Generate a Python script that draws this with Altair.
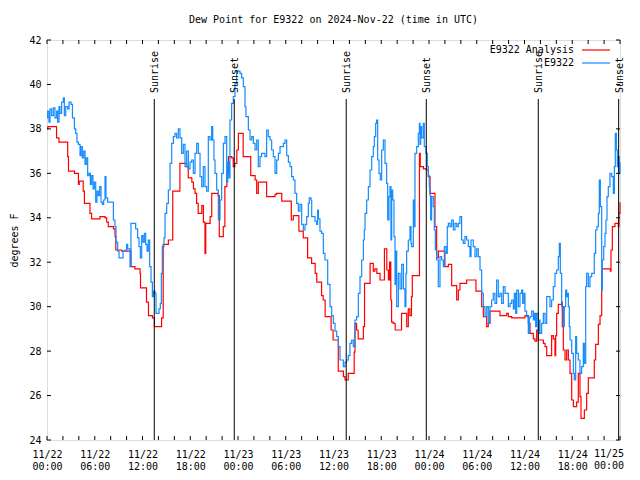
import json
import altair as alt
import pandas as pd

# ---------------- data (hours since 2024-11-22 00:00 UTC, dew point in deg F) ----------------
red_h = [0.0, 0.1, 1.2, 1.5, 2.6, 2.7, 3.45, 3.95, 4.05, 4.55, 4.7, 5.4, 5.6, 6.65, 7.3, 7.5, 7.7,
         8.35, 8.55, 8.65, 9.4, 10.55, 11.05, 11.7, 11.75, 12.5, 12.75, 13.25, 13.5, 14.4, 14.6,
         15.25, 15.8, 16.7, 17.55, 17.75, 18.2, 18.4, 18.6, 18.8, 19.0, 19.45, 19.65, 19.85, 19.95,
         20.5, 20.7, 21.5, 21.65, 22.15, 22.35, 22.6, 22.8, 23.2, 23.4, 23.6, 23.85, 24.05, 24.65,
         25.6, 26.15, 26.35, 26.55, 27.6, 28.65, 28.85, 29.5, 30.7, 30.95, 31.65, 32.2, 32.75, 33.25,
         33.7, 33.9, 34.5, 34.7, 34.95, 35.7, 35.95, 36.6, 37.25, 37.45, 37.85, 38.6, 38.7, 38.9,
         39.1, 39.75, 39.9, 40.6, 41.0, 41.2, 41.45, 41.85, 42.4, 42.7, 42.9, 43.05, 43.2, 43.3,
         43.5, 43.75, 44.55, 45.2, 45.4, 45.6, 45.8, 45.9, 46.8, 46.9, 47.3, 47.7, 47.92, 48.13,
         48.75, 48.96, 49.17, 50.0, 50.43, 50.85, 51.48, 51.69, 51.89, 52.73, 53.9, 54.62, 54.83,
         55.25, 55.45, 55.66, 56.92, 57.76, 57.97, 58.39, 60.06, 60.48, 60.69, 61.11, 61.32, 61.53,
         61.74, 62.37, 62.58, 62.79, 63.41, 63.62, 63.83, 63.92, 64.04, 64.25, 64.67, 64.75, 64.88,
         65.09, 65.3, 65.51, 65.72, 65.93, 66.14, 66.55, 66.76, 66.97, 67.1, 67.52, 67.81, 68.02,
         68.77, 68.94, 69.28, 69.49, 69.7, 70.78, 70.87, 71.04, 71.37, 71.79, 71.87, 72.0]
red_v = [38.0, 38.1, 37.6, 37.4, 36.75, 36.1, 36.0, 35.5, 35.65, 35.2, 34.65, 34.2, 33.95, 34.05, 34.0, 33.8, 33.6,
         33.5, 33.15, 32.55, 32.5, 31.8, 31.7, 31.5, 30.85, 30.2, 29.6, 29.5, 29.1, 29.5, 32.8,
         33.0, 35.2, 36.45, 36.3, 35.8, 35.6, 35.3, 35.1, 34.65, 34.2, 34.55, 33.8, 32.4, 33.75,
         34.05, 35.1, 35.0, 33.15, 33.6, 35.4, 36.0, 36.75, 36.7, 36.3, 36.45, 37.05, 37.8, 36.75,
         35.9, 35.7, 35.1, 35.6, 34.95, 35.05, 35.1, 34.75, 33.9, 34.1, 33.4, 33.1, 32.2, 31.95,
         31.5, 31.1, 30.5, 30.3, 29.55, 28.95, 28.5, 27.1, 26.85, 26.7, 27.0, 27.95, 29.25, 28.95,
         28.55, 29.1, 31.05, 31.95, 31.6, 31.7, 31.5, 31.2, 32.6, 31.65, 31.2, 32.0, 30.3, 29.3,
         29.25, 28.95, 29.7, 29.1, 29.9, 29.6, 30.45, 31.4, 36.9, 36.3, 36.2, 36.15, 35.85, 35.1,
         33.6, 32.2, 32.5, 31.8, 31.9, 30.95, 30.3, 30.75, 31.05, 31.2, 30.7, 30.0, 29.55,
         29.1, 29.25, 29.8, 29.6, 29.7, 29.55, 29.5, 29.6, 29.25, 28.8, 28.55, 28.45, 28.95,
         28.5, 28.35, 28.2, 27.8, 28.7, 28.55, 27.8, 28.7, 29.7, 30.1, 30.2, 29.1, 28.05,
         27.6, 28.05, 27.6, 27.0, 25.8, 25.5, 25.7, 27.0, 25.95, 24.97, 25.35, 26.1, 26.8,
         27.6, 28.3, 29.2, 29.6, 31.7, 31.6, 32.55, 33.6, 33.75, 33.6, 34.2, 34.7]

blue_h = [0.0, 0.08, 0.25, 0.38, 0.59, 0.8, 1.0, 1.22, 1.34, 1.51, 1.63, 1.84, 2.05, 2.18, 2.35, 2.6,
          2.77, 3.02, 3.2, 3.44, 3.6, 3.77, 3.94, 4.15, 4.27, 4.44, 4.61, 4.78, 4.94, 5.11, 5.28,
          5.45, 5.61, 5.78, 5.95, 6.12, 6.28, 6.45, 6.62, 6.79, 6.95, 7.12, 7.29, 7.41, 7.62, 7.92,
          8.13, 8.34, 8.54, 8.67, 8.88, 9.05, 9.38, 9.55, 9.8, 10.01, 10.14, 10.3, 10.43, 10.55,
          10.89, 11.14, 11.39, 11.56, 11.73, 11.9, 12.06, 12.23, 12.4, 12.57, 12.73, 12.9, 13.07,
          13.24, 13.4, 13.57, 13.7, 13.9, 14.07, 14.24, 14.37, 14.49, 14.7, 14.83, 15.04, 15.25,
          15.46, 15.67, 15.88, 16.08, 16.29, 16.5, 16.71, 16.92, 17.13, 17.34, 17.55, 17.76, 17.97,
          18.18, 18.39, 18.6, 18.81, 19.02, 19.23, 19.44, 19.64, 19.85, 20.06, 20.27, 20.48, 20.69,
          20.82, 20.98, 21.11, 21.32, 21.53, 21.74, 21.95, 22.16, 22.37, 22.58, 22.7, 22.87, 22.99,
          23.2, 23.41, 23.62, 23.83, 24.04, 24.25, 24.46, 24.67, 24.88, 25.0, 25.3, 25.51, 25.72,
          25.93, 26.14, 26.35, 26.55, 26.76, 26.97, 27.18, 27.39, 27.6, 27.81, 28.02, 28.23, 28.44,
          28.65, 28.86, 29.07, 29.28, 29.7, 29.91, 30.12, 30.33, 30.53, 30.74, 30.95, 31.16, 31.37,
          31.58, 31.79, 32.0, 32.21, 32.42, 32.63, 32.84, 32.96, 33.17, 33.26, 33.68, 33.89, 34.01,
          34.1, 34.3, 34.51, 34.72, 34.93, 35.27, 35.56, 35.77, 35.98, 36.19, 36.4, 36.61, 36.82,
          37.03, 37.24, 37.45, 37.65, 37.86, 38.07, 38.28, 38.49, 38.7, 38.91, 39.12, 39.33, 39.54,
          39.75, 39.87, 39.96, 40.17, 40.38, 40.59, 40.8, 41.0, 41.13, 41.3, 41.42, 41.55, 41.72,
          41.88, 42.05, 42.26, 42.47, 42.68, 42.81, 42.97, 43.1, 43.22, 43.31, 43.44, 43.6, 43.73,
          43.85, 43.94, 44.15, 44.36, 44.57, 44.78, 44.98, 45.1, 45.19, 45.4, 45.61, 45.74, 45.82,
          46.03, 46.12, 46.24, 46.45, 46.66, 46.79, 46.87, 46.95, 47.08, 47.29, 47.41, 47.62, 47.79,
          47.92, 48.04, 48.13, 48.21, 48.33, 48.54, 48.67, 48.8, 48.96, 49.17, 49.38, 49.59, 49.8,
          49.93, 50.14, 50.3, 50.43, 50.64, 50.85, 51.06, 51.27, 51.48, 51.69, 51.89, 52.1, 52.31,
          52.52, 52.73, 52.94, 53.15, 53.28, 53.57, 53.78, 53.99, 54.2, 54.41, 54.62, 54.83, 55.04,
          55.25, 55.45, 55.66, 55.87, 56.08, 56.29, 56.5, 56.71, 56.92, 57.13, 57.34, 57.55, 57.76,
          57.97, 58.18, 58.39, 58.6, 58.72, 58.89, 59.02, 59.23, 59.43, 59.64, 59.77, 59.94, 60.06,
          60.27, 60.48, 60.61, 60.69, 60.9, 61.11, 61.24, 61.4, 61.53, 61.74, 61.86, 61.95, 62.16,
          62.37, 62.58, 62.79, 62.99, 63.2, 63.41, 63.62, 63.83, 64.04, 64.25, 64.38, 64.5, 64.67,
          64.88, 65.0, 65.17, 65.3, 65.42, 65.51, 65.63, 65.72, 65.93, 66.14, 66.26, 66.43, 66.55,
          66.76, 66.97, 67.18, 67.39, 67.52, 67.69, 67.81, 68.02, 68.23, 68.44, 68.65, 68.77, 68.94,
          69.11, 69.28, 69.4, 69.53, 69.7, 69.78, 69.95, 70.11, 70.24, 70.37, 70.53, 70.74, 70.95,
          71.16, 71.29, 71.41, 71.54, 71.66, 71.79, 71.91, 72.0]
blue_v = [38.5, 38.8, 38.3, 38.9, 38.6, 38.95, 38.5, 38.8, 38.3, 39.0, 38.7, 39.2, 39.4, 38.6, 39.0, 38.9,
          39.2, 39.1, 38.5, 38.0, 37.8, 37.4, 37.3, 36.8, 37.2, 36.7, 37.0, 36.4, 36.7, 35.9, 36.0,
          35.5, 35.9, 35.3, 35.6, 34.7, 35.2, 35.0, 35.4, 34.7, 34.6, 34.8, 35.85, 34.9, 34.7, 34.7,
          34.7, 33.9, 33.6, 32.9, 32.5, 32.2, 32.2, 32.5, 32.55, 32.8, 32.6, 32.6, 31.8, 33.75,
          33.75, 33.5, 33.1, 32.7, 32.2, 33.2, 32.9, 33.3, 32.8, 32.5, 33.0, 31.8, 31.1,
          30.45, 30.7, 30.6, 29.7, 29.7, 29.9, 30.15, 31.5, 32.7, 33.1, 34.2, 34.65, 35.25,
          36.45, 37.35, 37.65, 37.8, 37.6, 38.0, 37.6, 36.9, 37.3, 36.3, 37.0, 36.2, 36.5,
          36.6, 36.0, 36.9, 37.35, 36.9, 35.85, 35.4, 36.3, 35.4, 35.2, 37.65, 37.5, 38.1,
          37.5, 36.6, 36.0, 35.25, 33.9, 34.8, 36.0, 37.35, 37.65, 35.6, 36.5, 35.8, 38.4,
          39.15, 39.45, 40.05, 40.6, 40.6, 40.5, 40.3, 39.9, 39.0, 38.55, 37.95, 37.5, 37.65,
          37.35, 37.05, 37.5, 36.3, 36.75, 36.9, 36.9, 36.75, 37.95, 37.65, 37.5, 37.05, 36.75,
          36.0, 36.6, 36.9, 37.2, 37.35, 37.5, 36.8, 36.5, 36.3, 35.85, 35.7, 35.1, 34.65,
          34.3, 34.6, 33.7, 33.45, 33.7, 34.05, 34.65, 34.9, 34.8, 34.05, 33.85, 33.7, 34.35,
          33.95, 33.4, 33.3, 32.4, 32.1, 31.0, 30.0, 29.6, 29.25, 28.9, 28.65, 28.2, 27.6,
          27.6, 27.3, 27.5, 27.6, 27.8, 28.35, 28.5, 28.2, 29.4, 29.55, 30.6, 31.35, 32.1,
          33.0, 33.45, 34.2, 34.8, 35.4, 36.15, 36.75, 37.2, 37.65, 38.25, 38.4, 36.6, 36.0,
          35.7, 37.05, 37.5, 36.45, 35.55, 33.9, 34.95, 35.4, 33.0, 35.25, 34.8, 33.15, 31.0,
          32.5, 30.0, 31.5, 30.8, 31.9, 30.8, 30.0, 31.5, 32.5, 33.0, 33.6, 32.85, 32.7,
          34.8, 33.6, 36.9, 37.2, 37.8, 38.25, 37.3, 38.1, 37.6, 38.25, 37.2, 36.9, 36.3,
          35.9, 35.4, 35.0, 33.9, 34.95, 34.5, 33.45, 32.55, 32.1, 30.9, 32.25, 32.1, 31.8,
          32.7, 32.4, 33.6, 33.75, 33.6, 33.9, 33.45, 33.75, 33.6, 33.75, 34.05, 33.0, 32.85,
          33.15, 33.0, 32.7, 32.25, 33.0, 32.7, 32.25, 32.6, 32.25, 31.65, 30.6, 30.0, 29.55,
          30.0, 29.25, 30.0, 30.3, 30.6, 30.15, 31.2, 30.45, 30.6, 30.15, 30.9, 30.6, 30.6,
          30.0, 30.15, 30.3, 29.9, 30.6, 29.7, 30.75, 30.0, 30.6, 30.75, 30.15, 30.6, 29.8,
          29.55, 28.8, 29.5, 29.55, 29.8, 29.4, 29.7, 29.1, 29.7, 28.8, 29.4, 28.8, 29.25,
          29.7, 29.25, 30.45, 30.45, 30.0, 30.3, 30.9, 31.5, 31.65, 32.25, 32.85, 31.5, 30.0,
          29.1, 30.0, 30.75, 30.45, 30.6, 30.0, 29.1, 28.5, 27.9, 27.0, 26.7, 28.65, 27.9,
          27.6, 27.0, 27.3, 28.35, 27.45, 30.9, 31.5, 30.9, 31.35, 31.5, 31.5, 32.4, 33.45,
          33.6, 34.2, 35.7, 34.5, 30.75, 32.1, 32.7, 33.3, 33.9, 34.95, 35.4, 36.0, 35.85,
          35.1, 36.3, 37.8, 37.05, 36.3, 36.75, 36.0, 36.5]

sun_h = [13.48, 23.53, 37.6, 47.66, 61.73, 71.83]
sun_label = ["Sunrise", "Sunset", "Sunrise", "Sunset", "Sunrise", "Sunset"]

x_tick_hours = [0, 6, 12, 18, 24, 30, 36, 42, 48, 54, 60, 66, 72]
x_tick_labels = [["11/22", "00:00"], ["11/22", "06:00"], ["11/22", "12:00"], ["11/22", "18:00"],
                 ["11/23", "00:00"], ["11/23", "06:00"], ["11/23", "12:00"], ["11/23", "18:00"],
                 ["11/24", "00:00"], ["11/24", "06:00"], ["11/24", "12:00"], ["11/24", "18:00"],
                 ["11/25", "00:00"]]
x_minor_hours = list(range(0, 73, 2))
y_ticks = [24, 26, 28, 30, 32, 34, 36, 38, 40, 42]

series_names = ["E9322 Analysis", "E9322"]
series_colors = ["#ff0000", "#148cff"]

# ---------------- chart ----------------
FONT = "DejaVu Sans Mono"
W, H = 573, 400
xs = alt.Scale(domain=[0, 72], nice=False, zero=False)
ys = alt.Scale(domain=[24, 42], nice=False, zero=False)

red_df = pd.DataFrame({"h": red_h, "v": red_v})
blue_df = pd.DataFrame({"h": blue_h, "v": blue_v})
sun_df = pd.DataFrame({"h": sun_h, "label": sun_label})
xt_df = pd.DataFrame({"h": x_minor_hours})
yt_df = pd.DataFrame({"v": y_ticks})

# all labels but the last one go on the axis; the last (at the right edge) is drawn
# right-aligned so it stays inside the page
axis_hours = x_tick_hours[:-1]
axis_labels = x_tick_labels[:-1]
label_expr = f"{json.dumps(axis_labels)}[indexof({json.dumps(axis_hours)}, datum.value)]"
last_df = pd.DataFrame({"h": [x_tick_hours[-1]], "l1": [x_tick_labels[-1][0]],
                        "l2": [x_tick_labels[-1][1]]})

x_axis = alt.Axis(values=axis_hours, labelExpr=label_expr, ticks=False, domain=False, grid=False,
                  labelFont=FONT, labelFontSize=10, labelColor="black", labelPadding=9,
                  labelLineHeight=12, labelFlush=False, labelOverlap=False, labelAngle=0, title=None)
y_axis = alt.Axis(values=y_ticks, ticks=False, domain=False, grid=False, labelFont=FONT,
                  labelFontSize=10, labelColor="black", labelPadding=6, title="degrees F",
                  titleFont=FONT, titleFontSize=10, titleFontWeight="normal", titleColor="black",
                  titlePadding=9)

red_line = alt.Chart(red_df).mark_line(color=series_colors[0], strokeWidth=1.2,
                                       interpolate="step-after").encode(
    x=alt.X("h:Q", scale=xs, axis=x_axis),
    y=alt.Y("v:Q", scale=ys, axis=y_axis))
blue_line = alt.Chart(blue_df).mark_line(color=series_colors[1], strokeWidth=1.2,
                                         interpolate="step-after").encode(
    x=alt.X("h:Q", scale=xs), y=alt.Y("v:Q", scale=ys))

last_l1 = alt.Chart(last_df).mark_text(align="right", baseline="top", font=FONT, fontSize=10,
                                       color="black", dx=4).encode(
    x=alt.X("h:Q", scale=xs), y=alt.value(H + 9), text="l1:N")
last_l2 = alt.Chart(last_df).mark_text(align="right", baseline="top", font=FONT, fontSize=10,
                                       color="black", dx=4).encode(
    x=alt.X("h:Q", scale=xs), y=alt.value(H + 21), text="l2:N")

tick_bottom = alt.Chart(xt_df).mark_rule(color="black", strokeWidth=1).encode(
    x=alt.X("h:Q", scale=xs), y=alt.value(H - 4), y2=alt.value(H))
tick_top = alt.Chart(xt_df).mark_rule(color="black", strokeWidth=1).encode(
    x=alt.X("h:Q", scale=xs), y=alt.value(0), y2=alt.value(4))
tick_left = alt.Chart(yt_df).mark_rule(color="black", strokeWidth=1).encode(
    y=alt.Y("v:Q", scale=ys), x=alt.value(0), x2=alt.value(4))
tick_right = alt.Chart(yt_df).mark_rule(color="black", strokeWidth=1).encode(
    y=alt.Y("v:Q", scale=ys), x=alt.value(W - 4), x2=alt.value(W))

sun_rule = alt.Chart(sun_df).mark_rule(color="black", strokeWidth=1).encode(
    x=alt.X("h:Q", scale=xs), y=alt.value(59), y2=alt.value(H))
sun_text = alt.Chart(sun_df).mark_text(angle=270, align="left", baseline="middle", font=FONT,
                                       fontSize=10, color="black", dx=2, dy=1).encode(
    x=alt.X("h:Q", scale=xs), y=alt.value(55), text="label:N")

leg_layers = []
for i, (name, col) in enumerate(zip(series_names, series_colors)):
    ly = 10 + 13 * i
    ldf = pd.DataFrame({"t": [name]})
    leg_layers.append(alt.Chart(ldf).mark_text(align="right", baseline="middle", font=FONT,
                                               fontSize=10, color="black").encode(
        x=alt.value(527), y=alt.value(ly), text="t:N"))
    leg_layers.append(alt.Chart(ldf).mark_rule(color=col, strokeWidth=1.2).encode(
        x=alt.value(535), x2=alt.value(563), y=alt.value(ly)))

chart = alt.layer(red_line, blue_line, tick_bottom, tick_top, tick_left, tick_right,
                  sun_rule, sun_text, last_l1, last_l2, *leg_layers).properties(
    width=W, height=H,
    title=alt.TitleParams("Dew Point for E9322 on 2024-Nov-22 (time in UTC)", font=FONT,
                          fontSize=10, fontWeight="normal", color="black", anchor="middle",
                          offset=10),
    autosize=alt.AutoSizeParams(type="none"),
    padding={"left": 39, "top": 32, "right": 12, "bottom": 32},
).configure_view(stroke="black", strokeWidth=1).configure(background="white")

chart.save("out.html", embed_options={"renderer": "svg", "actions": False})
